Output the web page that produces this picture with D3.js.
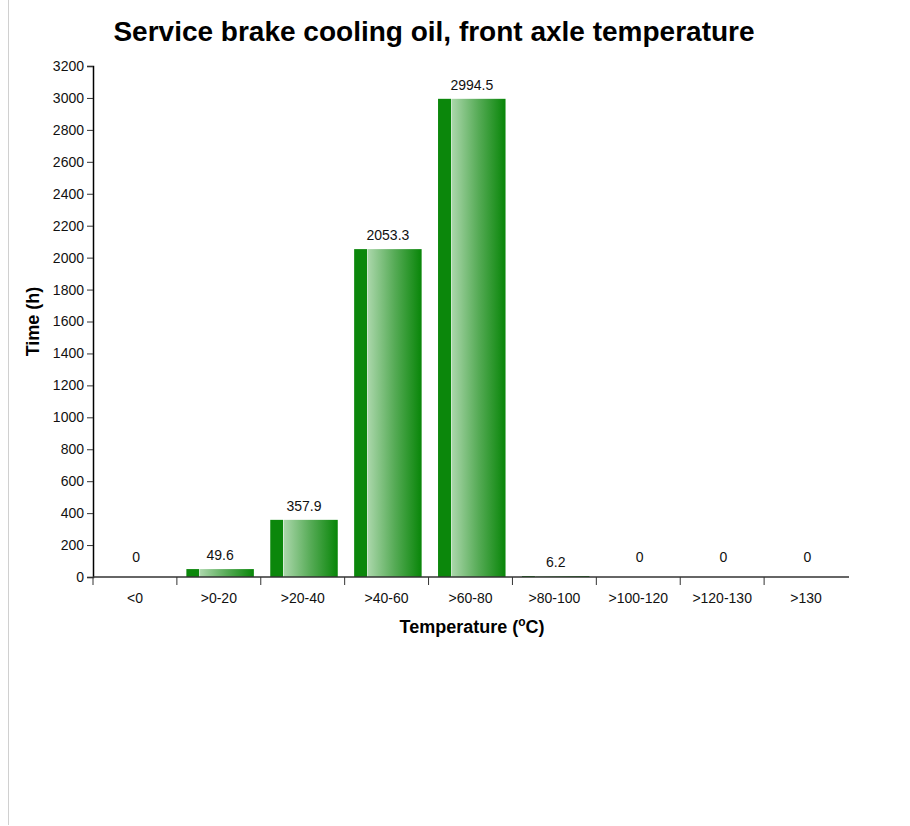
<!DOCTYPE html>
<html>
<head>
<meta charset="utf-8">
<script src="https://cdn.jsdelivr.net/npm/d3@7"></script>
<style>
  html, body { margin: 0; padding: 0; background: #fff; }
  svg { display: block; font-family: "Liberation Sans", Arial, sans-serif; }
</style>
</head>
<body>
<svg id="chart" width="910" height="826"></svg>
<script>
// Hours spent in each temperature band
const categories = ["<0", ">0-20", ">20-40", ">40-60", ">60-80", ">80-100", ">100-120", ">120-130", ">130"];
const hours = [0, 49.6, 357.9, 2053.3, 2994.5, 6.2, 0, 0, 0];
const yTicks = d3.range(0, 3201, 200);

const svg = d3.select("#chart");
const margin = { left: 93, right: 62, top: 66, bottom: 249 };
const W = 910, H = 826;

// Thin grey frame line on the left edge
svg.append("line")
  .attr("x1", 8.5).attr("x2", 8.5).attr("y1", 0).attr("y2", 825)
  .attr("stroke", "#d0d0d0").attr("stroke-width", 1);

// One band per category, ticks on the band edges
const x = d3.scaleBand()
  .domain(categories)
  .range([margin.left, W - margin.right])
  .padding(0);
const barOffset = 0.113 * x.step();
const barWidth = 0.805 * x.step();

const y = d3.scaleLinear()
  .domain([0, 3200])
  .range([H - margin.bottom, margin.top]);

// Bar gradient: solid dark strip on the left, then light-to-dark shading
const defs = svg.append("defs");
const grad = defs.append("linearGradient")
  .attr("id", "barGrad")
  .attr("x1", "0%").attr("x2", "100%").attr("y1", "0%").attr("y2", "0%");
[
  [0, "#0b870b"], [0.185, "#0b870b"], [0.195, "#d8eed8"], [0.21, "#a9d6a9"],
  [0.6, "#56ab56"], [0.985, "#0b870b"], [1, "#1a8f1a"]
].forEach(([o, c]) => grad.append("stop").attr("offset", o).attr("stop-color", c));

// Title
svg.append("text")
  .attr("x", 434).attr("y", 41)
  .attr("text-anchor", "middle")
  .attr("font-size", 28).attr("font-weight", "bold").attr("fill", "#000")
  .text("Service brake cooling oil, front axle temperature");

// Bars
svg.append("g").selectAll("rect")
  .data(categories)
  .join("rect")
  .attr("x", d => x(d) + barOffset)
  .attr("width", barWidth)
  .attr("y", (d, i) => y(hours[i]))
  .attr("height", (d, i) => y(0) - y(hours[i]))
  .attr("fill", "url(#barGrad)");

// Value labels
svg.append("g").selectAll("text")
  .data(categories)
  .join("text")
  .attr("x", d => x(d) + barOffset + barWidth / 2)
  .attr("y", (d, i) => y(hours[i]) - (hours[i] === 0 ? 15 : 9))
  .attr("text-anchor", "middle")
  .attr("font-size", 14).attr("fill", "#111")
  .text((d, i) => hours[i]);

// Y axis
const yAxis = svg.append("g")
  .attr("transform", `translate(${margin.left},0)`)
  .call(d3.axisLeft(y).tickValues(yTicks).tickFormat(d3.format("d"))
    .tickSize(6).tickSizeOuter(6).tickPadding(3));
yAxis.select(".domain").attr("stroke", "#000").attr("stroke-width", 1.5);
yAxis.selectAll(".tick line").attr("stroke", "#333");
yAxis.selectAll(".tick text").attr("font-size", 14).attr("fill", "#111")
  .attr("font-family", "Liberation Sans, Arial, sans-serif");

// X axis
const xAxisG = svg.append("g")
  .attr("transform", `translate(0,${y(0)})`);
xAxisG.append("line")
  .attr("x1", margin.left).attr("x2", W - margin.right + 1)
  .attr("stroke", "#333").attr("stroke-width", 1.5);
xAxisG.selectAll("line.tk")
  .data(categories)
  .join("line")
  .attr("class", "tk")
  .attr("x1", d => x(d))
  .attr("x2", d => x(d))
  .attr("y1", 0).attr("y2", 8)
  .attr("stroke", "#333");
xAxisG.selectAll("text")
  .data(categories)
  .join("text")
  .attr("x", d => x(d) + x.bandwidth() / 2)
  .attr("y", 26)
  .attr("text-anchor", "middle")
  .attr("font-size", 14).attr("fill", "#111")
  .text(d => d);

// Axis titles
svg.append("text")
  .attr("transform", `translate(39,${(y(0) + y(3200)) / 2}) rotate(-90)`)
  .attr("text-anchor", "middle")
  .attr("font-size", 18).attr("font-weight", "bold")
  .text("Time (h)");

const xt = svg.append("text")
  .attr("x", 472).attr("y", 633)
  .attr("text-anchor", "middle")
  .attr("font-size", 18).attr("font-weight", "bold");
xt.append("tspan").text("Temperature (");
xt.append("tspan").attr("font-size", 12).attr("dy", -7).text("o");
xt.append("tspan").attr("dy", 7).text("C)");
</script>
</body>
</html>
